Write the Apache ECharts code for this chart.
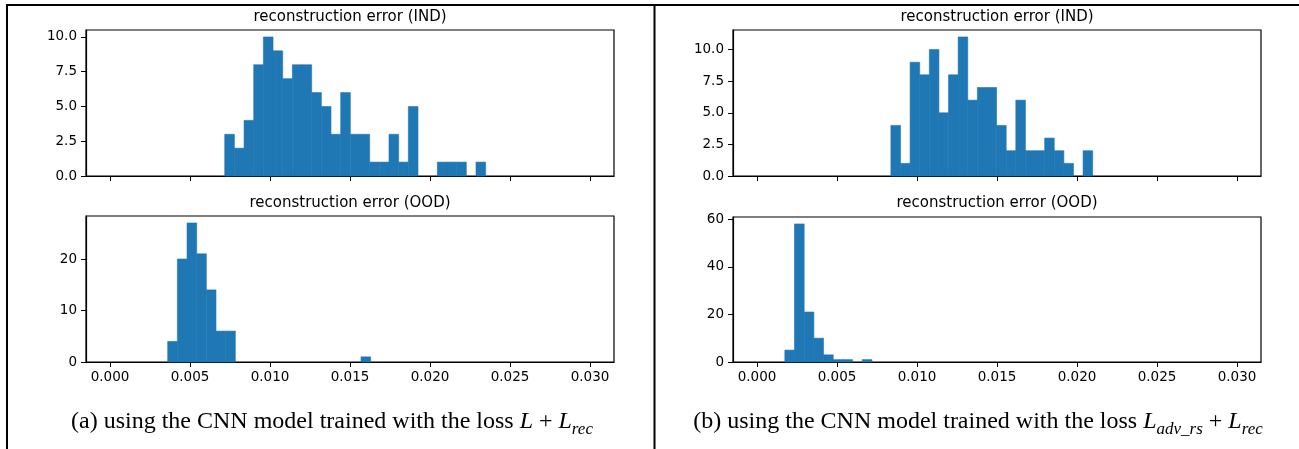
<!DOCTYPE html>
<html>
<head>
<meta charset="utf-8">
<script src="https://cdn.jsdelivr.net/npm/echarts@6/dist/echarts.min.js"></script>
<style>
  html, body { margin: 0; padding: 0; background: #fff; }
  #main { width: 1299px; height: 449px; }
</style>
</head>
<body>
<div id="main"></div>
<script>
// histogram bins: first bin edge, bin width, counts per bin
var indStartA = 0.00717, indWidthA = 0.000604;
var indCountsA = [3, 2, 4, 8, 10, 9, 7, 8, 8, 6, 5, 3, 6, 3, 3, 1, 1, 3, 1, 5, 0, 0, 1, 1, 1, 0, 1];
var oodStartA = 0.003606, oodWidthA = 0.000604;
var oodCountsA = [4, 20, 27, 21, 14, 6, 6, 0, 0, 0, 0, 0, 0, 0, 0, 0, 0, 0, 0, 0, 1];

var indStartB = 0.008368, indWidthB = 0.0006006;
var indCountsB = [4, 1, 9, 8, 10, 5, 8, 11, 6, 7, 7, 4, 2, 6, 2, 2, 3, 2, 1, 0, 2];
var oodStartB = 0.001739, oodWidthB = 0.000605;
var oodCountsB = [5, 58, 21, 10, 3, 1, 1, 0, 1];

// tick values
var xTicks = [0, 0.005, 0.01, 0.015, 0.02, 0.025, 0.03];
var yTicksIndA = [0, 2.5, 5, 7.5, 10];
var yTicksOodA = [0, 10, 20];
var yTicksIndB = [0, 2.5, 5, 7.5, 10];
var yTicksOodB = [0, 20, 40, 60];

var titleInd = 'reconstruction error (IND)';
var titleOod = 'reconstruction error (OOD)';

var chart = echarts.init(document.getElementById('main'), null, { renderer: 'canvas' });

var barColor = '#1f77b4';
var tickFont = 'DejaVu Sans';

function binsToData(start, width, counts) {
    var out = [];
    counts.forEach(function (c, i) {
        if (c > 0) out.push([start + i * width, start + (i + 1) * width, c]);
    });
    return out;
}

function histSeries(idx, start, width, counts) {
    return {
        type: 'custom',
        xAxisIndex: idx,
        yAxisIndex: idx,
        data: binsToData(start, width, counts),
        encode: { x: [0, 1], y: 2 },
        renderItem: function (params, api) {
            var p0 = api.coord([api.value(0), 0]);
            var p1 = api.coord([api.value(1), api.value(2)]);
            return {
                type: 'rect',
                shape: { x: p0[0], y: p1[1], width: p1[0] - p0[0], height: p0[1] - p1[1] },
                style: { fill: barColor, stroke: barColor, lineWidth: 0.6 }
            };
        }
    };
}

function xAxis(idx, showLabels) {
    return {
        type: 'value',
        gridIndex: idx,
        min: -0.0015,
        max: 0.0315,
        splitLine: { show: false },
        axisLine: { show: true, onZero: false, lineStyle: { color: '#000', width: 1.2 } },
        axisTick: { show: true, length: 5, customValues: xTicks, lineStyle: { color: '#000', width: 1 } },
        axisLabel: {
            show: showLabels,
            customValues: xTicks,
            margin: 8,
            color: '#000',
            fontFamily: tickFont,
            fontSize: 13.5,
            formatter: function (v) { return v.toFixed(3); }
        }
    };
}

function yAxis(idx, max, ticks, decimals) {
    return {
        type: 'value',
        gridIndex: idx,
        min: 0,
        max: max,
        splitLine: { show: false },
        axisLine: { show: true, onZero: false, lineStyle: { color: '#000', width: 1.2 } },
        axisTick: { show: true, length: 5, customValues: ticks, lineStyle: { color: '#000', width: 1 } },
        axisLabel: {
            customValues: ticks,
            margin: 9,
            color: '#000',
            fontFamily: tickFont,
            fontSize: 13.5,
            formatter: function (v) { return v.toFixed(decimals); }
        }
    };
}

var gridStyle = { show: true, borderColor: '#000', borderWidth: 1.2 };

function subTitle(x, y, text) {
    return {
        type: 'text',
        x: x, y: y,
        style: {
            text: text,
            fill: '#000',
            font: '15px "DejaVu Sans"',
            textAlign: 'center',
            textVerticalAlign: 'middle'
        }
    };
}

function caption(x, y, text) {
    return {
        type: 'text',
        x: x, y: y,
        style: {
            text: text,
            fill: '#000',
            textAlign: 'center',
            textVerticalAlign: 'top',
            rich: {
                n: { fontFamily: 'Liberation Serif', fontSize: 24, lineHeight: 24, verticalAlign: 'top' },
                p: { fontFamily: 'Liberation Serif', fontSize: 24, lineHeight: 24, verticalAlign: 'top', padding: [0, 6, 0, 6] },
                m: { fontFamily: 'Liberation Serif', fontStyle: 'italic', fontSize: 24, lineHeight: 24, verticalAlign: 'top' },
                s: { fontFamily: 'Liberation Serif', fontStyle: 'italic', fontSize: 17, lineHeight: 17, padding: [11, 0, 0, 0], verticalAlign: 'top' }
            }
        }
    };
}

var option = {
    backgroundColor: '#fff',
    animation: false,
    grid: [
        Object.assign({ left: 86, top: 30, width: 528, height: 146 }, gridStyle),
        Object.assign({ left: 86, top: 216, width: 528, height: 146 }, gridStyle),
        Object.assign({ left: 733, top: 30, width: 528, height: 146 }, gridStyle),
        Object.assign({ left: 733, top: 217, width: 528, height: 145 }, gridStyle)
    ],
    xAxis: [xAxis(0, false), xAxis(1, true), xAxis(2, false), xAxis(3, true)],
    yAxis: [
        yAxis(0, 10.5, yTicksIndA, 1),
        yAxis(1, 28.35, yTicksOodA, 0),
        yAxis(2, 11.55, yTicksIndB, 1),
        yAxis(3, 60.9, yTicksOodB, 0)
    ],
    series: [
        histSeries(0, indStartA, indWidthA, indCountsA),
        histSeries(1, oodStartA, oodWidthA, oodCountsA),
        histSeries(2, indStartB, indWidthB, indCountsB),
        histSeries(3, oodStartB, oodWidthB, oodCountsB)
    ],
    graphic: [
        // figure frame
        { type: 'line', shape: { x1: 6, y1: 5, x2: 1299, y2: 5 }, style: { stroke: '#000', lineWidth: 2 } },
        { type: 'line', shape: { x1: 7, y1: 4, x2: 7, y2: 449 }, style: { stroke: '#000', lineWidth: 2 } },
        { type: 'line', shape: { x1: 654.5, y1: 4, x2: 654.5, y2: 449 }, style: { stroke: '#000', lineWidth: 2 } },
        subTitle(350, 17, titleInd),
        subTitle(350, 203, titleOod),
        subTitle(997, 17, titleInd),
        subTitle(997, 203, titleOod),
        caption(332, 410, '{n|(a) using the CNN model trained with the loss }{m|L}{p|+}{m|L}{s|rec}'),
        caption(978, 410, '{n|(b) using the CNN model trained with the loss }{m|L}{s|adv_rs}{p|+}{m|L}{s|rec}')
    ]
};

chart.setOption(option);
</script>
</body>
</html>
